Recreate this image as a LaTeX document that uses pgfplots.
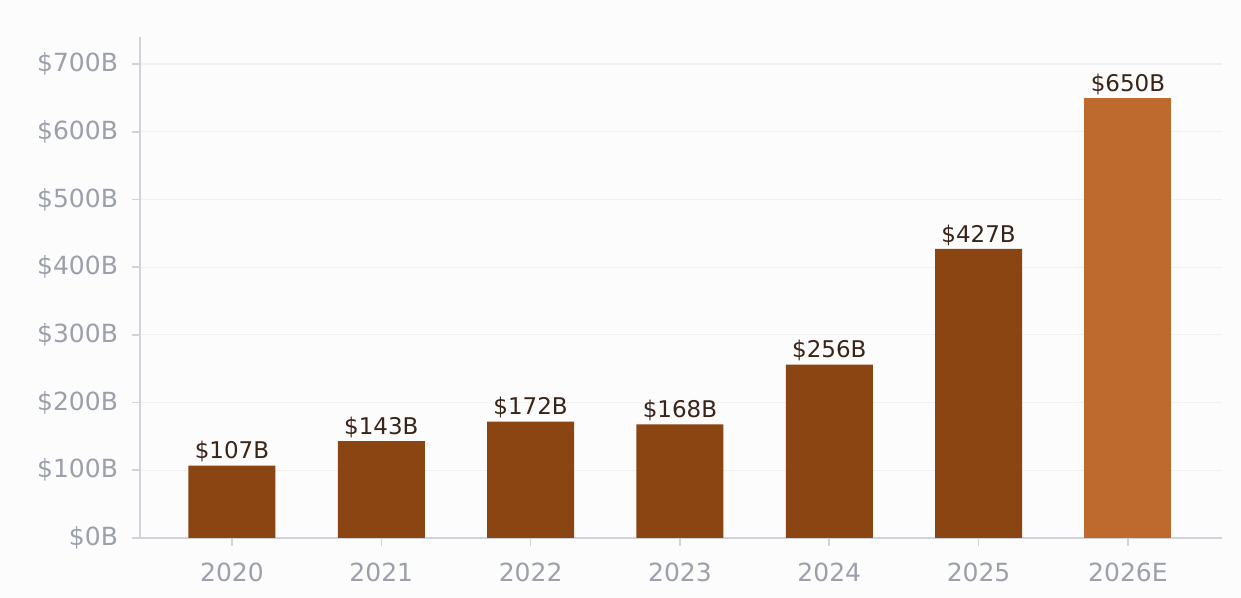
\documentclass[border=0pt]{standalone}
\usepackage{pgfplots}
\pgfplotsset{compat=1.18}
\usepackage{fontspec}
\setmainfont{DejaVu Sans}
\definecolor{bg}{HTML}{FCFCFC}
\definecolor{barA}{HTML}{8B4513}
\definecolor{barB}{HTML}{BE6A2F}
\definecolor{ticktxt}{HTML}{9CA0AB}
\definecolor{axln}{HTML}{D1D3DA}
\definecolor{gridc}{HTML}{F0F0F2}
\definecolor{valtxt}{HTML}{3A2418}
\begin{document}
\begin{tikzpicture}
\fill[bg] (-70pt,-30pt) rectangle (550.5pt,269pt);
\begin{axis}[
  at={(0,0)}, anchor=south west,
  scale only axis, width=541pt, height=250.5pt,
  xmin=-0.616, xmax=6.63, ymin=0, ymax=740,
  axis x line*=bottom, axis y line*=left,
  axis line style={axln, line width=0.8pt},
  every tick/.style={axln, line width=0.8pt},
  tick align=outside,
  major tick length=4pt,
  xtick={0,...,6},
  xticklabels={2020,2021,2022,2023,2024,2025,2026E},
  ytick={0,100,...,700},
  yticklabel={\$\pgfmathprintnumber{\tick}B},
  /pgf/number format/assume math mode=true,
  ticklabel style={font=\fontsize{12.5}{14}\selectfont, text=ticktxt},
  xticklabel style={yshift=-5pt},
  yticklabel style={xshift=-3.5pt},
  ymajorgrids, grid style={gridc, line width=0.6pt},
  ybar, bar width=43.5pt, bar shift=0pt,
  nodes near coords={\$\pgfmathprintnumber{\pgfplotspointmeta}B},
  every node near coord/.append style={font=\fontsize{11.5}{13}\selectfont, text=valtxt, inner sep=1.5pt},
  clip=false,
]
\addplot[fill=barA, draw=none] coordinates {(0,107) (1,143) (2,172) (3,168) (4,256) (5,427)};
\addplot[fill=barB, draw=none] coordinates {(6,650)};
\end{axis}
\end{tikzpicture}
\end{document}
